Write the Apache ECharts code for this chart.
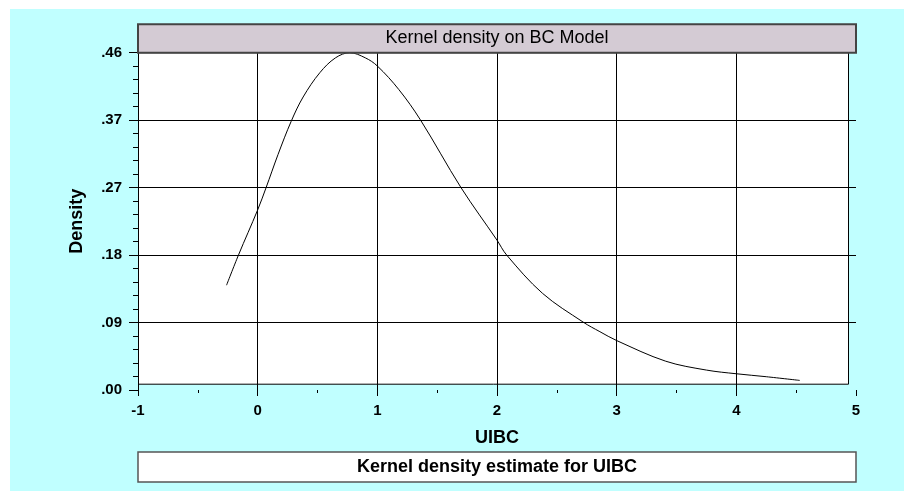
<!DOCTYPE html>
<html>
<head>
<meta charset="utf-8">
<script src="https://cdn.jsdelivr.net/npm/echarts@6/dist/echarts.min.js"></script>
<style>
  html, body { margin: 0; padding: 0; background: #fff; }
  #chart { width: 904px; height: 491px; }
</style>
</head>
<body>
<div id="chart"></div>
<script>
// values
const uibc = [-0.26, -0.16, 0.00, 0.07, 0.17, 0.28, 0.38, 0.52, 0.65, 0.77, 0.90, 1.00, 1.18, 1.36, 1.70, 2.00, 2.08, 2.38, 2.72, 2.86, 3.00, 3.41, 3.75, 4.00, 4.25, 4.53]
const density = [0.142, 0.183, 0.244, 0.274, 0.319, 0.364, 0.397, 0.430, 0.450, 0.457, 0.450, 0.439, 0.407, 0.366, 0.274, 0.203, 0.183, 0.131, 0.092, 0.079, 0.067, 0.039, 0.027, 0.022, 0.018, 0.013]
const yMax = 0.457
const yStep = yMax / 5

const font = "'Liberation Sans', Arial, sans-serif"
const chart = echarts.init(document.getElementById('chart'))

const option = {
  backgroundColor: '#fff',
  animation: false,
  grid: { left: 138, right: 48, top: 52.7, bottom: 101 },
  graphic: [
    // cyan panel
    { type: 'rect', z: -100, shape: { x: 10, y: 9, width: 894, height: 482 }, style: { fill: '#c0ffff' } },
    // plot frame
    { type: 'rect', z: -50, shape: { x: 138.5, y: 52.7, width: 710, height: 331.5 }, style: { fill: '#fff', stroke: '#000', lineWidth: 1 } },
    // title box
    { type: 'rect', z: 10, shape: { x: 138, y: 24.3, width: 718, height: 28.4 }, style: { fill: '#d4cbd4', stroke: '#444', lineWidth: 2 } },
    { type: 'text', z: 11, x: 497, y: 38.5, style: { text: 'Kernel density on BC Model', font: '18px ' + font, fill: '#000', align: 'center', verticalAlign: 'middle' } },
    // footer box
    { type: 'rect', z: 10, shape: { x: 138, y: 452, width: 718, height: 30 }, style: { fill: '#fff', stroke: '#555', lineWidth: 1.5 } },
    { type: 'text', z: 11, x: 497, y: 467, style: { text: 'Kernel density estimate for UIBC', font: 'bold 18px ' + font, fill: '#000', align: 'center', verticalAlign: 'middle' } }
  ],
  xAxis: {
    type: 'value',
    min: -1,
    max: 5,
    interval: 1,
    name: 'UIBC',
    nameLocation: 'middle',
    nameGap: 39,
    nameTextStyle: { fontFamily: font, fontWeight: 'bold', fontSize: 18, color: '#000' },
    axisLine: { show: false, onZero: false },
    axisTick: { show: true, length: 6, lineStyle: { color: '#000' } },
    minorTick: { show: true, splitNumber: 2, length: 3, lineStyle: { color: '#000' } },
    axisLabel: { margin: 13, fontFamily: font, fontWeight: 'bold', fontSize: 15, color: '#000' },
    splitLine: { show: true, showMaxLine: false, lineStyle: { color: '#000', width: 1 } }
  },
  yAxis: {
    type: 'value',
    min: 0,
    max: yMax,
    interval: yStep,
    name: 'Density',
    nameLocation: 'middle',
    nameGap: 52,
    nameTextStyle: { fontFamily: font, fontWeight: 'bold', fontSize: 18, color: '#000' },
    axisLine: { show: false, onZero: false },
    axisTick: { show: true, length: 9, lineStyle: { color: '#000' } },
    minorTick: { show: true, splitNumber: 5, length: 5, lineStyle: { color: '#000' } },
    axisLabel: {
      margin: 16,
      fontFamily: font,
      fontWeight: 'bold',
      fontSize: 15,
      color: '#000',
      formatter: v => v.toFixed(2).replace(/^0/, '')
    },
    splitLine: { show: true, showMinLine: false, lineStyle: { color: '#000', width: 1 } }
  },
  series: [
    {
      type: 'line',
      data: uibc.map((x, i) => [x, density[i]]),
      smooth: 0.35,
      showSymbol: false,
      lineStyle: { color: '#000', width: 1 }
    }
  ]
}
chart.setOption(option)
</script>
</body>
</html>
